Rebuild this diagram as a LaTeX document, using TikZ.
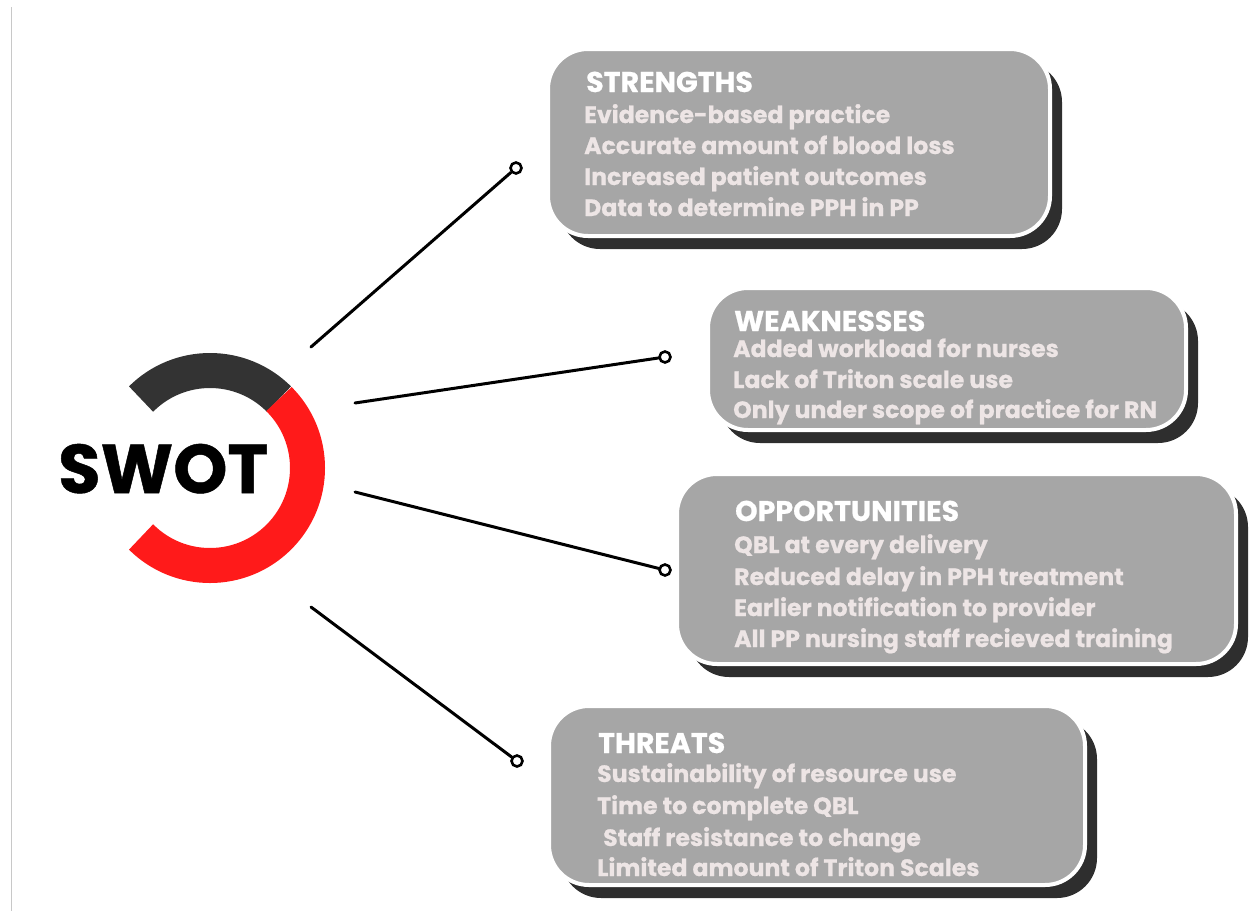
\documentclass[tikz,border=0pt]{standalone}
\usepackage{fontspec}
\newfontfamily\pop{Poppins}[BoldFeatures={FakeBold=0.7}]
\begin{document}
\definecolor{cardfill}{HTML}{A6A6A6}
\definecolor{cardshadow}{HTML}{2E2E2E}
\definecolor{itemtext}{HTML}{EDE5E5}
\definecolor{ringdark}{HTML}{333333}
\definecolor{ringred}{HTML}{FF1A1A}
\definecolor{rulegray}{HTML}{C8C8C8}
\begin{tikzpicture}[x=1pt, y=-1pt,
  card/.style={rectangle, rounded corners=40pt, fill=cardfill, draw=white,
    line width=4pt, inner sep=0pt, outer sep=0pt},
  cardshade/.style={rectangle, rounded corners=40pt, fill=cardshadow,
    inner sep=0pt, outer sep=0pt},
  heading/.style={anchor=base west, inner sep=0pt, text=white,
    font=\pop\bfseries\fontsize{28.5}{32}\selectfont},
  item/.style={anchor=base west, inner sep=0pt, text=itemtext,
    font=\pop\bfseries\fontsize{23.6}{27}\selectfont},
  link/.style={line width=3pt, line cap=round, black},
  tip/.style={circle, draw=black, line width=2.6pt, fill=white,
    minimum size=11pt, inner sep=0pt}]
\useasboundingbox (0,0) rectangle (1256,911);

% left page rule
\draw[rulegray, line width=1.5pt] (11.5,7) -- (11.5,911);

% SWOT ring
\begin{scope}[shift={(210,468)}, x=1pt, y=1pt]
  \draw[ringdark, line width=35pt] (45:97.5) arc[start angle=45, end angle=135, radius=97.5pt];
  \draw[ringred, line width=35pt] (-135:97.5) arc[start angle=-135, end angle=45, radius=97.5pt];
\end{scope}
\node[anchor=base west, inner sep=0pt, font=\pop\bfseries\fontsize{69}{72}\selectfont]
  (swot) at (58,493) {SWOT};

% cards: shadow first, then the card
\fill[cardshade] (560,62) rectangle (1062,249);
\node[card, minimum width=502pt, minimum height=187pt, anchor=north west] (sbox) at (548,49) {};
\fill[cardshade] (720,301) rectangle (1198,443);
\node[card, minimum width=478pt, minimum height=142pt, anchor=north west] (wbox) at (708,288) {};
\fill[cardshade] (689,487) rectangle (1248,677);
\node[card, minimum width=559pt, minimum height=190pt, anchor=north west] (obox) at (677,474) {};
\fill[cardshade] (561,719) rectangle (1097,898);
\node[card, minimum width=536pt, minimum height=179pt, anchor=north west] (tbox) at (549,706) {};

% strengths
\node[heading] (sh) at (586,92) {STRENGTHS};
\node[item] (s1) at (584,123) {Evidence-based practice};
\node[item] (s2) at (584,154) {Accurate amount of blood loss};
\node[item] (s3) at (584,185) {Increased patient outcomes};
\node[item] (s4) at (584,216) {Data to determine PPH in PP};

% weaknesses
\node[heading] (wh) at (734,331) {WEAKNESSES};
\node[item] (w1) at (733,357) {Added workload for nurses};
\node[item] (w2) at (733,388) {Lack of Triton scale use};
\node[item] (w3) at (733,418) {Only under scope of practice for RN};

% opportunities
\node[heading] (oh) at (735,521) {OPPORTUNITIES};
\node[item] (o1) at (734,553) {QBL at every delivery};
\node[item] (o2) at (734,585) {Reduced delay in PPH treatment};
\node[item] (o3) at (734,616) {Earlier notification to provider};
\node[item] (o4) at (734,647) {All PP nursing staff recieved training};

% threats
\node[heading] (th) at (598,753) {THREATS};
\node[item] (t1) at (597,782) {Sustainability of resource use};
\node[item] (t2) at (597,814) {Time to complete QBL};
\node[item] (t3) at (603,846) {Staff resistance to change};
\node[item] (t4) at (597,876) {Limited amount of Triton Scales};

% connectors
\coordinate (sa) at (311,347);
\coordinate (wa) at (355,403);
\coordinate (oa) at (355,492);
\coordinate (ta) at (311,607);
\node[tip] (sb) at (516,168) {};
\node[tip] (wb) at (665,357) {};
\node[tip] (ob) at (665,570) {};
\node[tip] (tb) at (517,761) {};
\draw[link] (sa) -- (sb);
\draw[link] (wa) -- (wb);
\draw[link] (oa) -- (ob);
\draw[link] (ta) -- (tb);
\end{tikzpicture}
\end{document}
